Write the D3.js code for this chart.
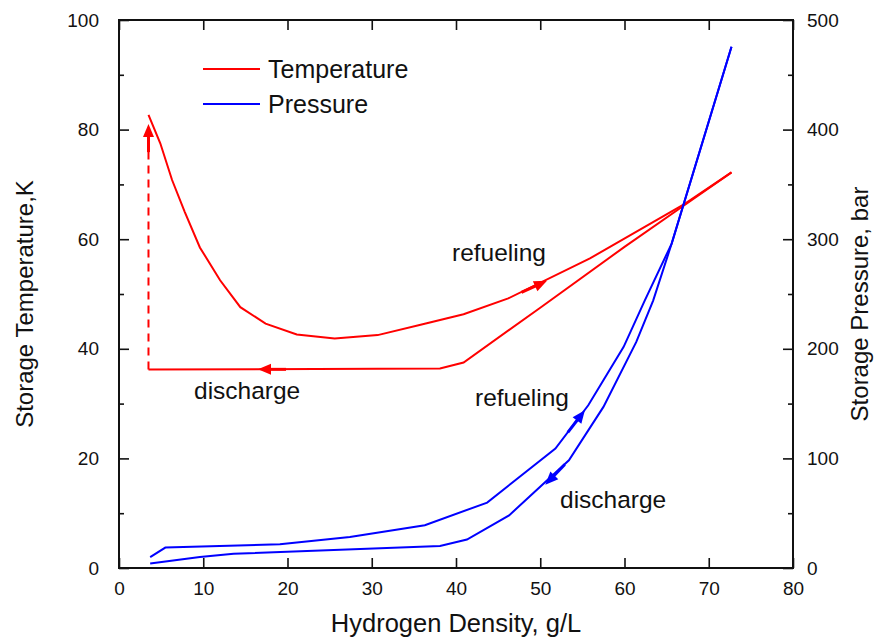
<!DOCTYPE html>
<html>
<head>
<meta charset="utf-8">
<script src="https://cdn.jsdelivr.net/npm/d3@7"></script>
<style>
    body { margin: 0; background: #fff; }
    svg text { font-family: Arial, "Liberation Sans", sans-serif; fill: #111; }
</style>
</head>
<body>
<div id="chart"></div>
<script>

// x ticks and y ticks
let xTicks = [0, 10, 20, 30, 40, 50, 60, 70, 80]
let tempTicks = [0, 20, 40, 60, 80, 100]
let presTicks = [0, 100, 200, 300, 400, 500]

// temperature, refueling branch (upper red)
let tempRefuelX = [3.5, 4.9, 6.3, 7.8, 9.6, 12.0, 14.4, 17.4, 21.1, 25.6, 30.7, 35.8, 40.9, 46.2, 55.9, 67.1, 72.7]
let tempRefuelT = [82.7, 77.5, 70.8, 65.0, 58.5, 52.5, 47.6, 44.6, 42.6, 41.9, 42.5, 44.4, 46.3, 49.2, 56.5, 66.4, 72.2]

// temperature, discharge branch (lower red)
let tempDischargeX = [72.7, 67.1, 60.0, 50.0, 40.9, 38.1, 3.5]
let tempDischargeT = [72.2, 66.2, 58.6, 47.5, 37.5, 36.4, 36.2]

// pressure, refueling branch
let presRefuelX = [3.7, 5.5, 19.1, 27.4, 36.3, 43.7, 51.8, 55.7, 59.9, 62.4, 65.6, 72.7]
let presRefuelP = [10, 18.6, 21.6, 28.3, 39, 59.7, 109, 148.5, 201.8, 244, 296, 475.6]

// pressure, discharge branch
let presDischargeX = [72.7, 65.6, 63.4, 61.4, 57.5, 53.4, 46.3, 41.3, 38.1, 13.6, 9.6, 3.7]
let presDischargeP = [475.6, 296, 244, 206.3, 147, 98.3, 48, 26, 20, 13, 10, 4]

let W = 875, H = 642
let margin = {top: 20, right: 82, bottom: 74, left: 119}
let width = W - margin.left - margin.right
let height = H - margin.top - margin.bottom

let svg = d3.select('#chart').append('svg')
    .attr('width', W)
    .attr('height', H)

let g = svg.append('g')
    .attr('transform', `translate(${margin.left},${margin.top})`)

let x = d3.scaleLinear().domain([0, 80]).range([0, width])
let yT = d3.scaleLinear().domain([0, 100]).range([height, 0])
let yP = d3.scaleLinear().domain([0, 500]).range([height, 0])

// axes, ticks pointing inward
function styleAxis(sel, size) {
    sel.select('.domain').remove()
    sel.selectAll('line').attr('stroke', '#111').attr('stroke-width', 1.6)
    sel.selectAll('text').style('font-size', size + 'px')
}

g.append('g')
    .attr('transform', `translate(0,${height})`)
    .call(d3.axisBottom(x).tickValues(xTicks).tickSizeInner(-10).tickSizeOuter(0).tickPadding(14))
    .call(sel => styleAxis(sel, 19))

g.append('g')
    .call(d3.axisTop(x).tickValues(xTicks).tickSizeInner(-10).tickSizeOuter(0).tickFormat(''))
    .call(sel => styleAxis(sel, 19))

// left minor + major
g.append('g')
    .call(d3.axisLeft(yT).tickValues([10, 30, 50, 70, 90]).tickSizeInner(-5).tickSizeOuter(0).tickFormat(''))
    .call(sel => styleAxis(sel, 19))
g.append('g')
    .call(d3.axisLeft(yT).tickValues(tempTicks).tickSizeInner(-10).tickSizeOuter(0).tickPadding(20))
    .call(sel => styleAxis(sel, 19))

// right minor + major
g.append('g')
    .attr('transform', `translate(${width},0)`)
    .call(d3.axisRight(yP).tickValues([50, 150, 250, 350, 450]).tickSizeInner(-5).tickSizeOuter(0).tickFormat(''))
    .call(sel => styleAxis(sel, 19))
g.append('g')
    .attr('transform', `translate(${width},0)`)
    .call(d3.axisRight(yP).tickValues(presTicks).tickSizeInner(-10).tickSizeOuter(0).tickPadding(14))
    .call(sel => styleAxis(sel, 19))

// frame
g.append('rect')
    .attr('width', width)
    .attr('height', height)
    .attr('fill', 'none')
    .attr('stroke', '#111')
    .attr('stroke-width', 2)

// axis titles
svg.append('text')
    .attr('x', margin.left + width / 2)
    .attr('y', 632)
    .attr('text-anchor', 'middle')
    .style('font-size', '25.5px')
    .text('Hydrogen Density, g/L')

svg.append('text')
    .attr('transform', `translate(33,${margin.top + height / 2 + 10}) rotate(-90)`)
    .attr('text-anchor', 'middle')
    .style('font-size', '24px')
    .text('Storage Temperature,K')

svg.append('text')
    .attr('transform', `translate(868,${margin.top + height / 2 + 10}) rotate(-90)`)
    .attr('text-anchor', 'middle')
    .style('font-size', '24px')
    .text('Storage Pressure, bar')

// lines
let lineT = d3.line().x(d => x(d[0])).y(d => yT(d[1]))
let lineP = d3.line().x(d => x(d[0])).y(d => yP(d[1]))

g.append('path')
    .datum(d3.zip(tempRefuelX, tempRefuelT))
    .attr('d', lineT).attr('fill', 'none').attr('stroke', '#ff0000').attr('stroke-width', 2)
g.append('path')
    .datum(d3.zip(tempDischargeX, tempDischargeT))
    .attr('d', lineT).attr('fill', 'none').attr('stroke', '#ff0000').attr('stroke-width', 2)
g.append('path')
    .datum(d3.zip(presRefuelX, presRefuelP))
    .attr('d', lineP).attr('fill', 'none').attr('stroke', '#0000ff').attr('stroke-width', 2)
g.append('path')
    .datum(d3.zip(presDischargeX, presDischargeP))
    .attr('d', lineP).attr('fill', 'none').attr('stroke', '#0000ff').attr('stroke-width', 2)

// dashed jump from discharge end back up to refuel start
g.append('line')
    .attr('x1', x(3.5)).attr('y1', yT(36.2))
    .attr('x2', x(3.5)).attr('y2', yT(79))
    .attr('stroke', '#ff0000').attr('stroke-width', 2)
    .attr('stroke-dasharray', '8,6')

// arrow heads: tip point and a point behind it along the curve
function arrow(tip, back, color) {
    let tx = tip[0], ty = tip[1]
    let ang = Math.atan2(ty - back[1], tx - back[0]) * 180 / Math.PI
    let a = g.append('g').attr('transform', `translate(${tx},${ty}) rotate(${ang})`)
    a.append('line').attr('x1', -28).attr('x2', -8).attr('y1', 0).attr('y2', 0)
        .attr('stroke', color).attr('stroke-width', 3)
    a.append('path').attr('d', 'M0,0 L-13,-5.5 L-13,5.5 Z').attr('fill', color)
}

arrow([x(3.5), yT(81)], [x(3.5), yT(70)], '#ff0000')
arrow([x(50.8), yT(52.4)], [x(46.2), yT(49.2)], '#ff0000')
arrow([x(16.5), yT(36.25)], [x(25), yT(36.25)], '#ff0000')
arrow([x(55.3), yP(144)], [x(51.8), yP(109)], '#0000ff')
arrow([x(50.6), yP(76)], [x(53.4), yP(98.3)], '#0000ff')

// annotations
let notes = [
    {t: 'refueling', x: 452, y: 261},
    {t: 'discharge', x: 194, y: 399},
    {t: 'refueling', x: 475, y: 406},
    {t: 'discharge', x: 560, y: 508}
]
svg.selectAll('.note').data(notes).enter().append('text')
    .attr('class', 'note')
    .attr('x', d => d.x).attr('y', d => d.y)
    .style('font-size', '24.5px')
    .text(d => d.t)

// legend
let legend = svg.append('g').attr('transform', 'translate(203,69)')
let legendItems = [{t: 'Temperature', c: '#ff0000'}, {t: 'Pressure', c: '#0000ff'}]
legendItems.forEach((d, i) => {
    legend.append('line')
        .attr('x1', 0).attr('x2', 57).attr('y1', i * 35).attr('y2', i * 35)
        .attr('stroke', d.c).attr('stroke-width', 2)
    legend.append('text')
        .attr('x', 65).attr('y', i * 35 + 9)
        .style('font-size', '25px')
        .text(d.t)
})

</script>
</body>
</html>
